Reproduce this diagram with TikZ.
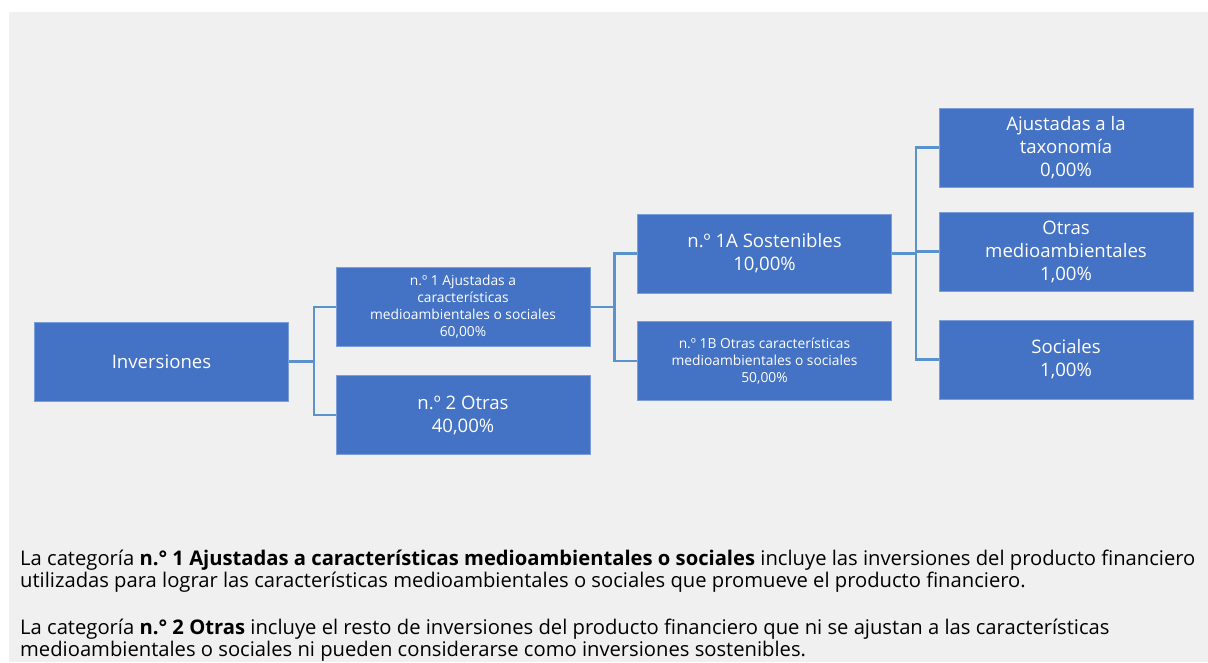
\documentclass[tikz,border=0pt]{standalone}
\usepackage{fontspec}
\setmainfont{Open Sans}
\usepackage{tikz}
\usetikzlibrary{positioning,calc}
\definecolor{fondo}{HTML}{F0F0F0}
\definecolor{azulcaja}{HTML}{4472C4}
\definecolor{bordecaja}{HTML}{7C9ED8}
\definecolor{azullinea}{HTML}{5A92CC}
\begin{document}
\begin{tikzpicture}[x=1pt,y=-1pt,
	caja/.style={draw=bordecaja, line width=1pt, fill=azulcaja, text=white, align=center, inner sep=2pt, minimum width=254pt, minimum height=79pt, font=\fontsize{18.6}{23}\selectfont},
	cajap/.style={caja, font=\fontsize{13.8}{17}\selectfont},
	texto/.style={anchor=base west, align=left, inner sep=0pt, font=\fontsize{20.2}{22}\selectfont},
	enlace/.style={draw=azullinea, line width=2.4pt}]
				\useasboundingbox (0,0) rectangle (1208,662);
				\fill[fondo] (9,12) rectangle (1208,662);
				\node[caja] (inv) at (161.5, 361.5) {Inversiones};
				\node[cajap] (n1) at (463, 307) {n.º 1 Ajustadas a\\características\\medioambientales o sociales\\60,00\%};
				\node[caja] (n2) at (463, 415) {n.º 2 Otras\\40,00\%};
				\node[caja] (n1a) at (764.5, 253.5) {n.º 1A Sostenibles\\10,00\%};
				\node[cajap] (n1b) at (764.5, 361) {n.º 1B Otras características\\medioambientales o sociales\\50,00\%};
				\node[caja] (tax) at (1066, 147.5) {Ajustadas a la\\taxonomía\\0,00\%};
				\node[caja] (oma) at (1066, 251.5) {Otras\\medioambientales\\1,00\%};
				\node[caja] (soc) at (1066, 359.5) {Sociales\\1,00\%};
				\draw[enlace] (inv.east) -- ++(25,0) |- (n1.west);
				\draw[enlace] (inv.east) -- ++(25,0) |- (n2.west);
				\draw[enlace] (n1.east) -- ++(24,0) |- (n1a.west);
				\draw[enlace] (n1.east) -- ++(24,0) |- (n1b.west);
				\draw[enlace] (n1a.east) -- ++(24,0) |- (tax.west);
				\draw[enlace] (n1a.east) -- ++(24,0) |- (oma.west);
				\draw[enlace] (n1a.east) -- ++(24,0) |- (soc.west);
				% la ancla base es la de la ultima linea
				\node[texto] (txt1) at (20, 587) {La categoría \textbf{n.° 1 Ajustadas a características medioambientales o sociales} incluye las inversiones del producto financiero\\utilizadas para lograr las características medioambientales o sociales que promueve el producto financiero.};
				\node[texto] (txt2) at (20, 656) {La categoría \textbf{n.° 2 Otras} incluye el resto de inversiones del producto financiero que ni se ajustan a las características\\medioambientales o sociales ni pueden considerarse como inversiones sostenibles.};
\end{tikzpicture}
\end{document}
